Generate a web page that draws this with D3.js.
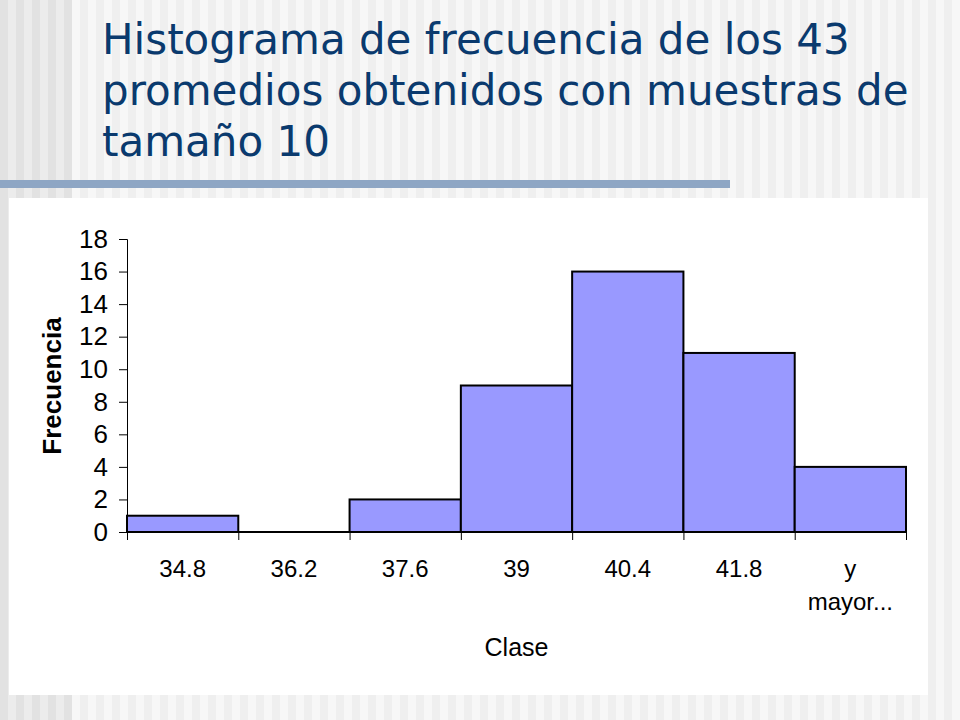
<!DOCTYPE html>
<html>
<head>
<meta charset="utf-8">
<script src="https://cdn.jsdelivr.net/npm/d3@7"></script>
<style>
  body { margin: 0; background: #f4f4f4; }
</style>
</head>
<body>
<script>
// data
var clases = ["34.8", "36.2", "37.6", "39", "40.4", "41.8", "y mayor..."];
var frecuencias = [1, 0, 2, 9, 16, 11, 4];
var yTicks = [0, 2, 4, 6, 8, 10, 12, 14, 16, 18];
var tituloLineas = ["Histograma de frecuencia de los 43", "promedios obtenidos con muestras de", "tamaño 10"];

var W = 960, H = 720;
var svg = d3.select("body")
  .append("svg")
    .attr("width", W)
    .attr("height", H)

// striped slide background
var stripes = d3.range(0, W, 8)
svg.selectAll("rect.stripe").data(stripes).enter().append("rect")
  .attr("class", "stripe")
  .attr("x", d => d).attr("y", 0).attr("width", 8).attr("height", H)
  .style("fill", function(d, i) {
    var dark = d < 72
    if (i % 2 == 0) return dark ? "#e2e2e2" : "#efefef"
    return dark ? "#ececec" : "#f7f7f7"
  })

// title
var titleWidths = [756, 816, 228]
svg.selectAll("text.title").data(tituloLineas).enter().append("text")
  .attr("class", "title")
  .attr("x", 102)
  .attr("y", (d, i) => 54 + i * 51)
  .style("font-family", "DejaVu Sans, Verdana, sans-serif")
  .style("font-size", "42px")
  .style("fill", "#0a3a6e")
  .text(d => d)
  .each(function(d, i) {
    var w = this.getComputedTextLength()
    if (w > titleWidths[i]) d3.select(this).attr("textLength", titleWidths[i]).attr("lengthAdjust", "spacingAndGlyphs")
  })

// rule under title
svg.append("rect").attr("x", 0).attr("y", 180).attr("width", 730).attr("height", 8).style("fill", "#8ea6c4")

// white chart panel
svg.append("rect").attr("x", 9).attr("y", 198).attr("width", 919).attr("height", 497).style("fill", "#ffffff")

// chart
var x0 = 127, x1 = 906, yTop = 239, yBot = 532
var x = d3.scaleLinear().domain([0, clases.length]).range([x0, x1])
var y = d3.scaleLinear().domain([0, 18]).range([yBot, yTop])

svg.selectAll("rect.bar").data(frecuencias).enter().append("rect")
  .attr("class", "bar")
  .attr("x", (d, i) => x(i))
  .attr("y", d => y(d))
  .attr("width", (d, i) => x(i + 1) - x(i))
  .attr("height", d => yBot - y(d))
  .style("fill", "#9999ff")
  .style("stroke", "#000")
  .style("stroke-width", 2)

// y axis
var yAxis = svg.append("g")
  .attr("transform", "translate(" + x0 + ",0)")
  .call(d3.axisLeft(y).tickValues(yTicks).tickSize(8).tickPadding(11))
yAxis.select(".domain").attr("stroke-width", 1)
yAxis.selectAll("text")
  .style("font-family", "Liberation Sans, Arial, sans-serif")
  .style("font-size", "26px")
  .style("fill", "#000")

// x axis: ticks at bin edges, labels centered in bins
var xAxis = svg.append("g")
  .attr("transform", "translate(0," + yBot + ")")
  .call(d3.axisBottom(x).tickValues(d3.range(0, clases.length + 1)).tickSize(8).tickFormat(""))
xAxis.select(".domain").attr("stroke-width", 2).attr("d", "M" + x0 + ",0H" + x1)

var xl = svg.selectAll("text.xlab").data(clases).enter().append("text")
  .attr("class", "xlab")
  .attr("x", (d, i) => (x(i) + x(i + 1)) / 2)
  .attr("y", 577)
  .attr("text-anchor", "middle")
  .style("font-family", "Liberation Sans, Arial, sans-serif")
  .style("font-size", "24px")
xl.each(function(d) {
  var parts = d.split(" ")
  var t = d3.select(this)
  parts.forEach(function(p, j) {
    t.append("tspan").attr("x", t.attr("x")).attr("dy", j == 0 ? 0 : 33).text(p)
  })
})

// axis titles
svg.append("text")
  .attr("x", (x0 + x1) / 2).attr("y", 656)
  .attr("text-anchor", "middle")
  .style("font-family", "Liberation Sans, Arial, sans-serif")
  .style("font-size", "25px")
  .text("Clase")

svg.append("text")
  .attr("transform", "translate(61,386) rotate(-90)")
  .attr("text-anchor", "middle")
  .style("font-family", "Liberation Sans, Arial, sans-serif")
  .style("font-size", "26px")
  .style("font-weight", "bold")
  .text("Frecuencia")
</script>
</body>
</html>
